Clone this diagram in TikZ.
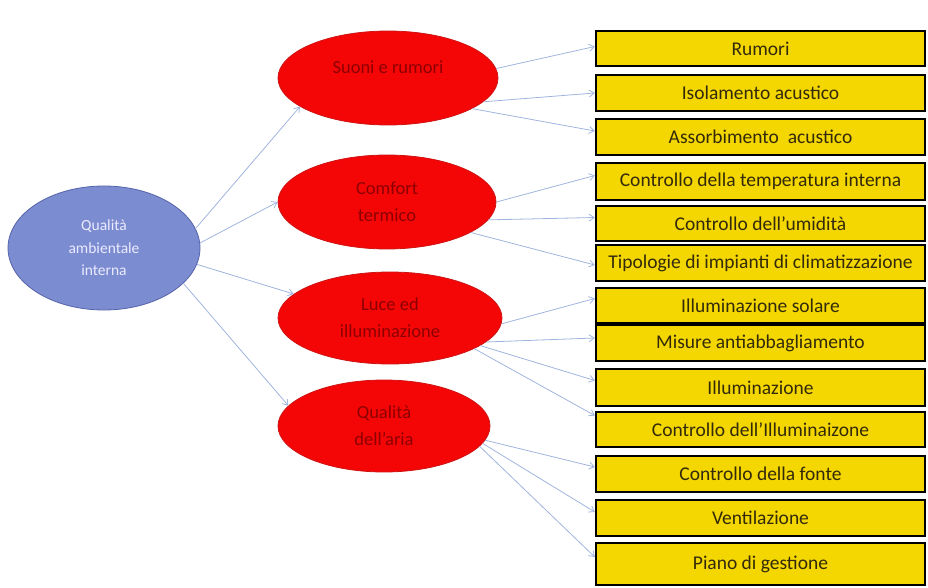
\documentclass[tikz,border=0pt]{standalone}
\usepackage{fontspec}
\setmainfont{Carlito}
\usetikzlibrary{arrows.meta,shapes.geometric}
\definecolor{boxyellow}{RGB}{244,214,0}
\definecolor{ellred}{RGB}{245,6,6}
\definecolor{ellredline}{RGB}{205,20,20}
\definecolor{ellblue}{RGB}{124,140,208}
\definecolor{ellblueline}{RGB}{86,100,170}
\definecolor{linkblue}{RGB}{160,180,222}
\definecolor{boxtext}{RGB}{50,42,10}
\definecolor{redtext}{RGB}{140,0,0}
\begin{document}
\begin{tikzpicture}[x=1pt,y=-1pt,
  itembox/.style={draw=black,line width=2.4pt,fill=boxyellow,minimum width=329pt,inner sep=0pt,
    text=boxtext,font=\fontsize{19.5}{21}\selectfont},
  topic/.style={ellipse,draw=ellredline,line width=0.8pt,fill=ellred,inner sep=0pt,align=center,
    text=redtext,font=\fontsize{18.5}{27}\selectfont},
  root/.style={ellipse,draw=ellblueline,line width=0.8pt,fill=ellblue,inner sep=0pt,align=center,
    text=white!92!blue,font=\fontsize{15.5}{22.5}\selectfont},
  link/.style={draw=linkblue,line width=0.8pt,-{Straight Barb[length=5pt,width=7pt]}}]
\useasboundingbox (0,0) rectangle (928,588);
% root
\node[root,minimum width=192pt,minimum height=124pt] (q) at (104,248) {Qualità\\ambientale\\interna};
% topics
\node[topic,minimum width=220pt,minimum height=94pt] (r1) at (388,78) {Suoni e rumori\\[-6pt]\mbox{}};
\node[topic,minimum width=218pt,minimum height=94pt] (r2) at (387,202) {Comfort\\termico};
\node[topic,minimum width=224pt,minimum height=92pt] (r3) at (390,318) {Luce ed\\illuminazione};
\node[topic,minimum width=212pt,minimum height=92pt] (r4) at (384,426) {Qualità\\dell'aria};
% boxes
\node[itembox,minimum height=35pt] (b1) at (760.5,48.5) {Rumori};
\node[itembox,minimum height=36pt] (b2) at (760.5,93) {Isolamento acustico};
\node[itembox,minimum height=36pt] (b3) at (760.5,137) {Assorbimento\ \ acustico};
\node[itembox,minimum height=37pt] (b4) at (760.5,181.5) {Controllo della temperatura interna};
\node[itembox,minimum height=35pt] (b5) at (760.5,223.5) {Controllo dell'umidità};
\node[itembox,minimum height=36pt] (b6) at (760.5,263) {Tipologie di impianti di climatizzazione};
\node[itembox,minimum height=35pt] (b7) at (760.5,305.5) {Illuminazione solare};
\node[itembox,minimum height=36pt] (b8) at (760.5,343) {Misure antiabbagliamento};
\node[itembox,minimum height=37pt] (b9) at (760.5,387.5) {Illuminazione};
\node[itembox,minimum height=35pt] (b10) at (760.5,429.5) {Controllo dell'Illuminaizone};
\node[itembox,minimum height=36pt] (b11) at (760.5,474) {Controllo della fonte};
\node[itembox,minimum height=36pt] (b12) at (760.5,518) {Ventilazione};
\node[itembox,minimum height=42pt] (b13) at (760.5,564) {Piano di gestione};
% root links
\draw[link] (q.12) -- (r1.198);
\draw[link] (q.3) -- (r2.180);
\draw[link] (q.-10) -- (r3.166);
\draw[link] (q.-24) -- (r4.168);
% topic links
\draw[link] (r1.5) -- ([yshift=2pt]b1.west);
\draw[link] (r1.-14) -- (b2.west);
\draw[link] (r1.-20) -- ([yshift=6pt]b3.west);
\draw[link] (r2.0) -- ([yshift=6pt]b4.west);
\draw[link] (r2.-10) -- ([yshift=6pt]b5.west);
\draw[link] (r2.-20) -- ([yshift=-2pt]b6.west);
\draw[link] (r3.-3) -- ([yshift=7pt]b7.west);
\draw[link] (r3.-14) -- ([yshift=5pt]b8.west);
\draw[link] (r3.-17) -- ([yshift=7pt]b9.west);
\draw[link] (r3.-20) -- ([yshift=14pt]b10.west);
\draw[link] (r4.-8) -- ([yshift=7pt]b11.west);
\draw[link] (r4.-10) -- ([yshift=6pt]b12.west);
\draw[link] (r4.-12) -- ([yshift=7pt]b13.west);
\end{tikzpicture}
\end{document}
